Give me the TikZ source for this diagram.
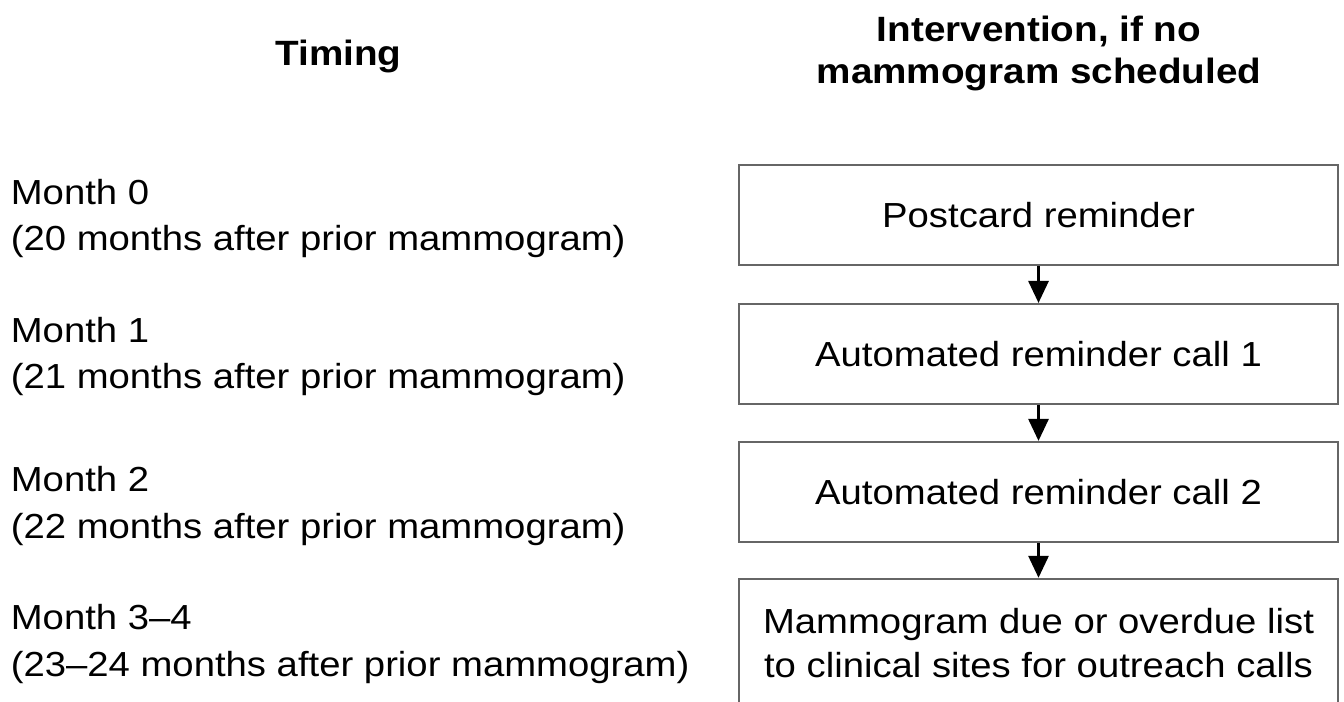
\documentclass[tikz,border=0pt]{standalone}
\usepackage{fontspec}
\setmainfont{Liberation Sans}[FakeStretch=1.1]
\usetikzlibrary{arrows.meta,positioning}

\begin{document}
\begin{tikzpicture}[
  node distance=0.72cm,
  box/.style={draw=black!60, line width=1.1pt, align=center, minimum width=11.98cm, minimum height=2cm, font=\fontsize{19.8}{25}\selectfont},
  lbl/.style={anchor=west, inner sep=0pt, align=left, font=\fontsize{19.8}{26.2}\selectfont},
  hdr/.style={inner sep=0pt, align=center, font=\fontsize{20}{23.9}\selectfont\bfseries},
  arr/.style={-{Triangle[length=0.44cm,width=0.4cm]}, line width=1.6pt}
]
\useasboundingbox (0,0) rectangle (26.88,-14.04);

% column heads
\node[hdr] (timing) at (6.77,-1.12) {Timing};
\node[hdr] (interv) at (20.78,-1.07) {Intervention, if no\\mammogram scheduled};

% intervention steps
\node[box] (post) at (20.77,-4.3) {Postcard reminder};
\node[box, below=0.74cm of post] (call1) {Automated reminder call 1};
\node[box, below=0.72cm of call1] (call2) {Automated reminder call 2};
\node[box, below=0.70cm of call2, minimum height=2.58cm] (list) {Mammogram due or overdue list\\to clinical sites for outreach calls};

% timing labels
\node[lbl] (m0) at (0.21,-4.37) {Month 0\\(20 months after prior mammogram)};
\node[lbl] (m1) at (0.21,-7.13) {Month 1\\(21 months after prior mammogram)};
\node[lbl] (m2) at (0.21,-10.12) {Month 2\\(22 months after prior mammogram)};
\node[lbl] (m3) at (0.21,-12.88) {Month 3–4\\(23–24 months after prior mammogram)};

\draw[arr] (post) -- (call1);
\draw[arr] (call1) -- (call2);
\draw[arr] (call2) -- (list);
\end{tikzpicture}
\end{document}
